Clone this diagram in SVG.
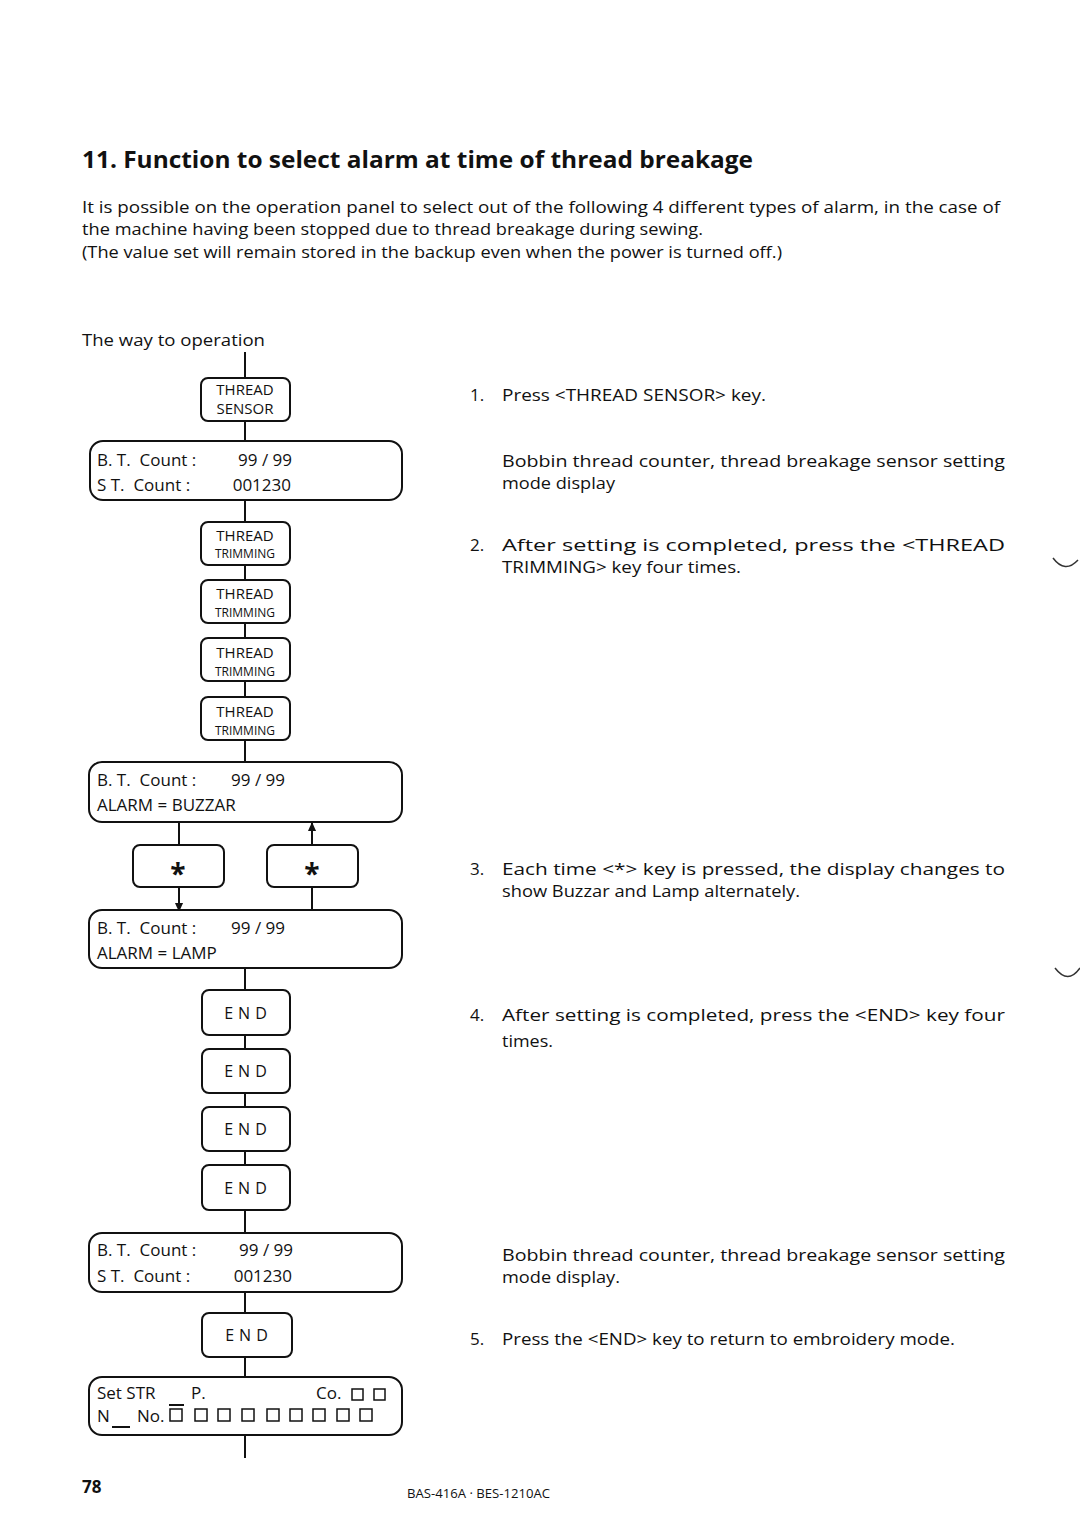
<svg xmlns="http://www.w3.org/2000/svg" width="1080" height="1516" viewBox="0 0 1080 1516">
<defs>
<style>
.t{font-family:"Open Sans","Noto Sans","Liberation Sans",sans-serif;fill:#111}
.b{font-size:17px}
.title{font-size:23px;font-weight:bold}
.key{fill:#fff;stroke:#111;stroke-width:2}
.disp{fill:#fff;stroke:#111;stroke-width:2}
.kt{font-size:15px;text-anchor:middle}
.ks{font-size:12px;text-anchor:middle}
.dt{font-size:17px}
.end{font-size:16px;text-anchor:middle;letter-spacing:5px}
.ln{stroke:#111;stroke-width:2;fill:none}
.sq{fill:none;stroke:#111;stroke-width:1.5}
</style>
<marker id="ah" viewBox="0 0 10 10" refX="9" refY="5" markerWidth="12" markerHeight="9" markerUnits="userSpaceOnUse" orient="auto">
<path d="M0,0.5 L10,5 L0,9.5 Z" fill="#111"/>
</marker>
</defs>
<rect width="1080" height="1516" fill="#fff"/>

<text class="t title" x="82" y="168" textLength="671" lengthAdjust="spacingAndGlyphs">11.  Function to select alarm at time of thread breakage</text>
<text class="t b" x="82" y="213" textLength="918" lengthAdjust="spacingAndGlyphs">It is possible on the operation panel to select out of the following 4 different types of alarm, in the case of</text>
<text class="t b" x="82" y="235" textLength="621" lengthAdjust="spacingAndGlyphs">the machine having been stopped due to thread breakage during sewing.</text>
<text class="t b" x="82" y="258" textLength="700" lengthAdjust="spacingAndGlyphs">(The value set will remain stored in the backup even when the power is turned off.)</text>

<text class="t b" x="82" y="346" textLength="183" lengthAdjust="spacingAndGlyphs">The way to operation</text>

<g id="connectors">
<line class="ln" x1="245" y1="352" x2="245" y2="378"/>
<line class="ln" x1="245" y1="421" x2="245" y2="441"/>
<line class="ln" x1="245" y1="500" x2="245" y2="522"/>
<line class="ln" x1="245" y1="565" x2="245" y2="580"/>
<line class="ln" x1="245" y1="623" x2="245" y2="638"/>
<line class="ln" x1="245" y1="681" x2="245" y2="697"/>
<line class="ln" x1="245" y1="740" x2="245" y2="762"/>
<line class="ln" x1="179" y1="822" x2="179" y2="845"/>
<line class="ln" x1="179" y1="887" x2="179" y2="911" marker-end="url(#ah)"/>
<line class="ln" x1="312" y1="910" x2="312" y2="887"/>
<line class="ln" x1="312" y1="845" x2="312" y2="823" marker-end="url(#ah)"/>
<line class="ln" x1="245" y1="968" x2="245" y2="990"/>
<line class="ln" x1="245" y1="1035" x2="245" y2="1049"/>
<line class="ln" x1="245" y1="1093" x2="245" y2="1107"/>
<line class="ln" x1="245" y1="1151" x2="245" y2="1165"/>
<line class="ln" x1="245" y1="1210" x2="245" y2="1233"/>
<line class="ln" x1="245" y1="1292" x2="245" y2="1313"/>
<line class="ln" x1="245" y1="1357" x2="245" y2="1377"/>
<line class="ln" x1="245" y1="1435" x2="245" y2="1458"/>
</g>

<g id="key-thread-sensor">
<rect class="key" x="201" y="378" width="89" height="43" rx="7"/>
<text class="t kt" x="245" y="395">THREAD</text>
<text class="t kt" x="245" y="414">SENSOR</text>
</g>

<g id="display-1">
<rect class="disp" x="90" y="441" width="312" height="59" rx="13"/>
<text class="t dt" x="97" y="466" xml:space="preserve">B. T.  Count :</text>
<text class="t dt" x="292" y="466" text-anchor="end">99 / 99</text>
<text class="t dt" x="97" y="491" xml:space="preserve">S T.  Count :</text>
<text class="t dt" x="291" y="491" text-anchor="end">001230</text>
</g>

<g id="key-trim-1">
<rect class="key" x="201" y="522" width="89" height="43" rx="7"/>
<text class="t kt" x="245" y="541">THREAD</text>
<text class="t ks" x="245" y="558">TRIMMING</text>
</g>
<g id="key-trim-2">
<rect class="key" x="201" y="580" width="89" height="43" rx="7"/>
<text class="t kt" x="245" y="599">THREAD</text>
<text class="t ks" x="245" y="617">TRIMMING</text>
</g>
<g id="key-trim-3">
<rect class="key" x="201" y="638" width="89" height="43" rx="7"/>
<text class="t kt" x="245" y="658">THREAD</text>
<text class="t ks" x="245" y="676">TRIMMING</text>
</g>
<g id="key-trim-4">
<rect class="key" x="201" y="697" width="89" height="43" rx="7"/>
<text class="t kt" x="245" y="717">THREAD</text>
<text class="t ks" x="245" y="735">TRIMMING</text>
</g>

<g id="display-buzzar">
<rect class="disp" x="89" y="762" width="313" height="60" rx="13"/>
<text class="t dt" x="97" y="786" xml:space="preserve">B. T.  Count :</text>
<text class="t dt" x="285" y="786" text-anchor="end">99 / 99</text>
<text class="t dt" x="97" y="811">ALARM = BUZZAR</text>
</g>

<g id="key-star-left">
<rect class="key" x="133" y="845" width="91" height="42" rx="7"/>
<text class="t" x="178" y="884" font-size="28" font-weight="bold" text-anchor="middle">*</text>
</g>
<g id="key-star-right">
<rect class="key" x="267" y="845" width="91" height="42" rx="7"/>
<text class="t" x="312" y="884" font-size="28" font-weight="bold" text-anchor="middle">*</text>
</g>

<g id="display-lamp">
<rect class="disp" x="89" y="910" width="313" height="58" rx="13"/>
<text class="t dt" x="97" y="934" xml:space="preserve">B. T.  Count :</text>
<text class="t dt" x="285" y="934" text-anchor="end">99 / 99</text>
<text class="t dt" x="97" y="959">ALARM = LAMP</text>
</g>

<g id="key-end-1">
<rect class="key" x="202" y="990" width="88" height="45" rx="7"/>
<text class="t end" x="248" y="1019">END</text>
</g>
<g id="key-end-2">
<rect class="key" x="202" y="1049" width="88" height="44" rx="7"/>
<text class="t end" x="248" y="1077">END</text>
</g>
<g id="key-end-3">
<rect class="key" x="202" y="1107" width="88" height="44" rx="7"/>
<text class="t end" x="248" y="1135">END</text>
</g>
<g id="key-end-4">
<rect class="key" x="202" y="1165" width="88" height="45" rx="7"/>
<text class="t end" x="248" y="1194">END</text>
</g>

<g id="display-2">
<rect class="disp" x="89" y="1233" width="313" height="59" rx="13"/>
<text class="t dt" x="97" y="1256" xml:space="preserve">B. T.  Count :</text>
<text class="t dt" x="293" y="1256" text-anchor="end">99 / 99</text>
<text class="t dt" x="97" y="1282" xml:space="preserve">S T.  Count :</text>
<text class="t dt" x="292" y="1282" text-anchor="end">001230</text>
</g>

<g id="key-end-5">
<rect class="key" x="202" y="1313" width="90" height="44" rx="7"/>
<text class="t end" x="249" y="1341">END</text>
</g>

<g id="display-embroidery">
<rect class="disp" x="89" y="1377" width="313" height="58" rx="13"/>
<text class="t dt" x="97" y="1399">Set STR</text>
<text class="t dt" x="191" y="1399">P.</text>
<text class="t dt" x="316" y="1399">Co.</text>
<rect class="sq" x="352" y="1389" width="11" height="11"/>
<rect class="sq" x="374" y="1389" width="11" height="11"/>
<text class="t dt" x="97" y="1422">N</text>
<line class="ln" x1="112" y1="1427" x2="130" y2="1427" stroke-width="1.5"/>
<text class="t dt" x="137" y="1422">No.</text>
<line class="ln" x1="169" y1="1405" x2="184" y2="1405" stroke-width="1.5"/>
<rect class="sq" x="170" y="1409" width="12" height="12"/>
<rect class="sq" x="195" y="1409" width="12" height="12"/>
<rect class="sq" x="218" y="1409" width="12" height="12"/>
<rect class="sq" x="242" y="1409" width="12" height="12"/>
<rect class="sq" x="267" y="1409" width="12" height="12"/>
<rect class="sq" x="290" y="1409" width="12" height="12"/>
<rect class="sq" x="313" y="1409" width="12" height="12"/>
<rect class="sq" x="337" y="1409" width="12" height="12"/>
<rect class="sq" x="360" y="1409" width="12" height="12"/>
</g>

<g id="steps">
<text class="t b" x="470" y="401">1.</text>
<text class="t b" x="502" y="401" textLength="264" lengthAdjust="spacingAndGlyphs">Press &lt;THREAD SENSOR&gt; key.</text>
<text class="t b" x="502" y="467" textLength="503" lengthAdjust="spacingAndGlyphs">Bobbin thread counter, thread breakage sensor setting</text>
<text class="t b" x="502" y="489" textLength="113" lengthAdjust="spacingAndGlyphs">mode display</text>
<text class="t b" x="470" y="551">2.</text>
<text class="t b" x="502" y="551" textLength="503" lengthAdjust="spacingAndGlyphs">After setting is completed, press the &lt;THREAD</text>
<text class="t b" x="502" y="573" textLength="239" lengthAdjust="spacingAndGlyphs">TRIMMING&gt; key four times.</text>
<text class="t b" x="470" y="875">3.</text>
<text class="t b" x="502" y="875" textLength="503" lengthAdjust="spacingAndGlyphs">Each time &lt;*&gt; key is pressed, the display changes to</text>
<text class="t b" x="502" y="897" textLength="298" lengthAdjust="spacingAndGlyphs">show Buzzar and Lamp alternately.</text>
<text class="t b" x="470" y="1021">4.</text>
<text class="t b" x="502" y="1021" textLength="503" lengthAdjust="spacingAndGlyphs">After setting is completed, press the &lt;END&gt; key four</text>
<text class="t b" x="502" y="1047" textLength="51" lengthAdjust="spacingAndGlyphs">times.</text>
<text class="t b" x="502" y="1261" textLength="503" lengthAdjust="spacingAndGlyphs">Bobbin thread counter, thread breakage sensor setting</text>
<text class="t b" x="502" y="1283" textLength="118" lengthAdjust="spacingAndGlyphs">mode display.</text>
<text class="t b" x="470" y="1345">5.</text>
<text class="t b" x="502" y="1345" textLength="453" lengthAdjust="spacingAndGlyphs">Press the &lt;END&gt; key to return to embroidery mode.</text>
</g>

<path d="M1053,558 Q1065,574 1078,560" fill="none" stroke="#333" stroke-width="1.5"/>
<path d="M1055,968 Q1068,985 1080,968" fill="none" stroke="#333" stroke-width="1.5"/>

<text class="t" x="82" y="1493" font-size="17" font-weight="bold">78</text>
<text class="t" x="407" y="1498" font-size="12" textLength="143" lengthAdjust="spacingAndGlyphs">BAS-416A · BES-1210AC</text>
</svg>
